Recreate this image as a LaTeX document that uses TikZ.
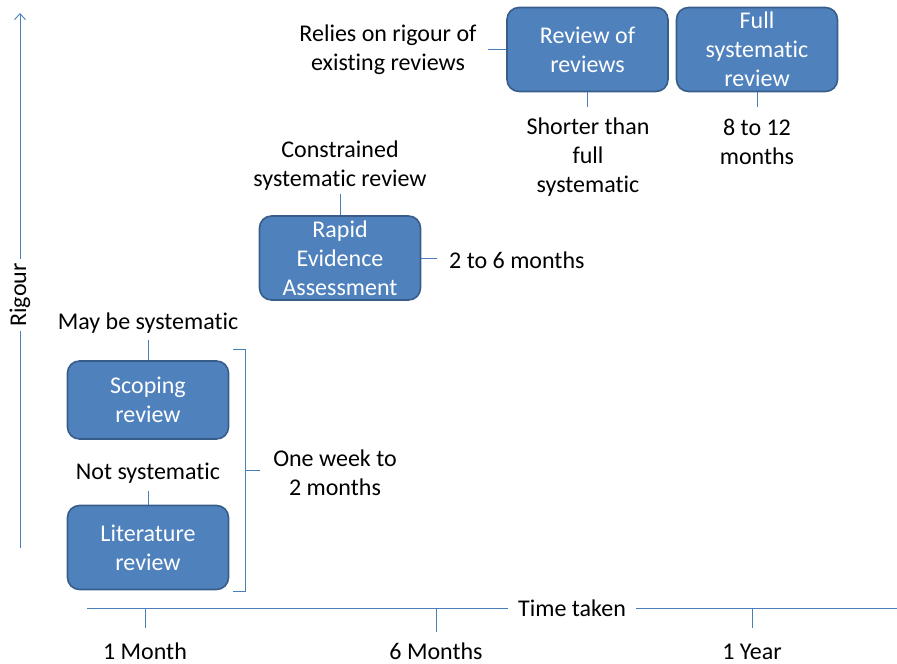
\documentclass[tikz,border=0pt]{standalone}
\usepackage{fontspec}
\setmainfont[Ligatures=NoCommon]{Carlito}
\usetikzlibrary{arrows.meta}
\definecolor{boxfill}{HTML}{4F81BD}
\definecolor{boxdraw}{HTML}{385D8A}
\definecolor{linec}{HTML}{4A7EBB}
\begin{document}
\begin{tikzpicture}[x=1pt,y=-1pt,
  box/.style={draw=boxdraw, line width=1.6pt, fill=boxfill, rounded corners=12pt, text=white,
    minimum width=161pt, minimum height=84pt, align=center, font=\fontsize{24}{29}\selectfont, inner sep=0pt},
  lbl/.style={align=center, font=\fontsize{24}{29}\selectfont, inner sep=0pt},
  conn/.style={draw=linec, line width=0.9pt}]
\useasboundingbox (0,0) rectangle (897,664);
% axes
\coordinate (vbot) at (20,548);
\coordinate (vtop) at (20,13);
\draw[conn, -{Straight Barb[length=6pt,width=11pt]}] (vbot) -- (vtop);
\node[lbl, rotate=90, fill=white, inner sep=4pt] (rig) at (20,295) {Rigour};
\coordinate (hl) at (87,608);
\coordinate (hr) at (897,608);
\draw[conn] (hl) -- (hr);
\node[lbl, fill=white, inner sep=10pt] (tt) at (572,608) {Time taken};
\coordinate (t1) at (145,608);
\coordinate (t2) at (436,608);
\coordinate (t3) at (752,608);
\draw[conn] (t1) -- ++(0,20);
\draw[conn] (t2) -- ++(0,24);
\draw[conn] (t3) -- ++(0,20);
\node[lbl, anchor=base] (m1) at (145,659) {1 Month};
\node[lbl, anchor=base] (m6) at (436,659) {6 Months};
\node[lbl, anchor=base] (y1) at (752,659) {1 Year};
% boxes
\node[box] (rr) at (587.5,49.5) {Review of\\reviews};
\node[box] (fs) at (757,49.5) {Full\\systematic\\review};
\node[box] (rea) at (340,258) {Rapid\\Evidence\\Assessment};
\node[box, minimum height=78pt] (sc) at (148,400) {Scoping\\review};
\node[box] (lit) at (148,547.5) {Literature\\review};
% labels
\node[lbl] (rel) at (388,50) {Relies on rigour of\\existing reviews};
\node[lbl] (sh) at (588,157) {Shorter than\\full\\systematic};
\node[lbl] (et) at (757,142) {8 to 12\\months};
\node[lbl] (con) at (340,166) {Constrained\\systematic review};
\node[lbl, anchor=west] (two) at (449,260) {2 to 6 months};
\node[lbl] (may) at (148,323) {May be systematic};
\node[lbl] (nots) at (148,473) {Not systematic};
\node[lbl] (one) at (335,473) {One week to\\2 months};
% connectors
\draw[conn] (rr.west) -- ++(-18,0);
\draw[conn] (rr.south) -- ++(0,15);
\draw[conn] (fs.south) -- ++(0,15);
\draw[conn] (rea.north) -- ++(0,-21);
\draw[conn] (rea.east) -- ++(16,0);
\draw[conn] (sc.north) -- ++(0,-20);
\draw[conn] (lit.north) -- ++(0,-14);
% bracket
\coordinate (b1) at (233,349);
\coordinate (b2) at (245,349);
\coordinate (b3) at (245,591);
\coordinate (b4) at (233,591);
\coordinate (bm) at (245,470);
\draw[conn] (b1) -- (b2) -- (b3) -- (b4);
\draw[conn] (bm) -- ++(15,0);
\end{tikzpicture}
\end{document}
